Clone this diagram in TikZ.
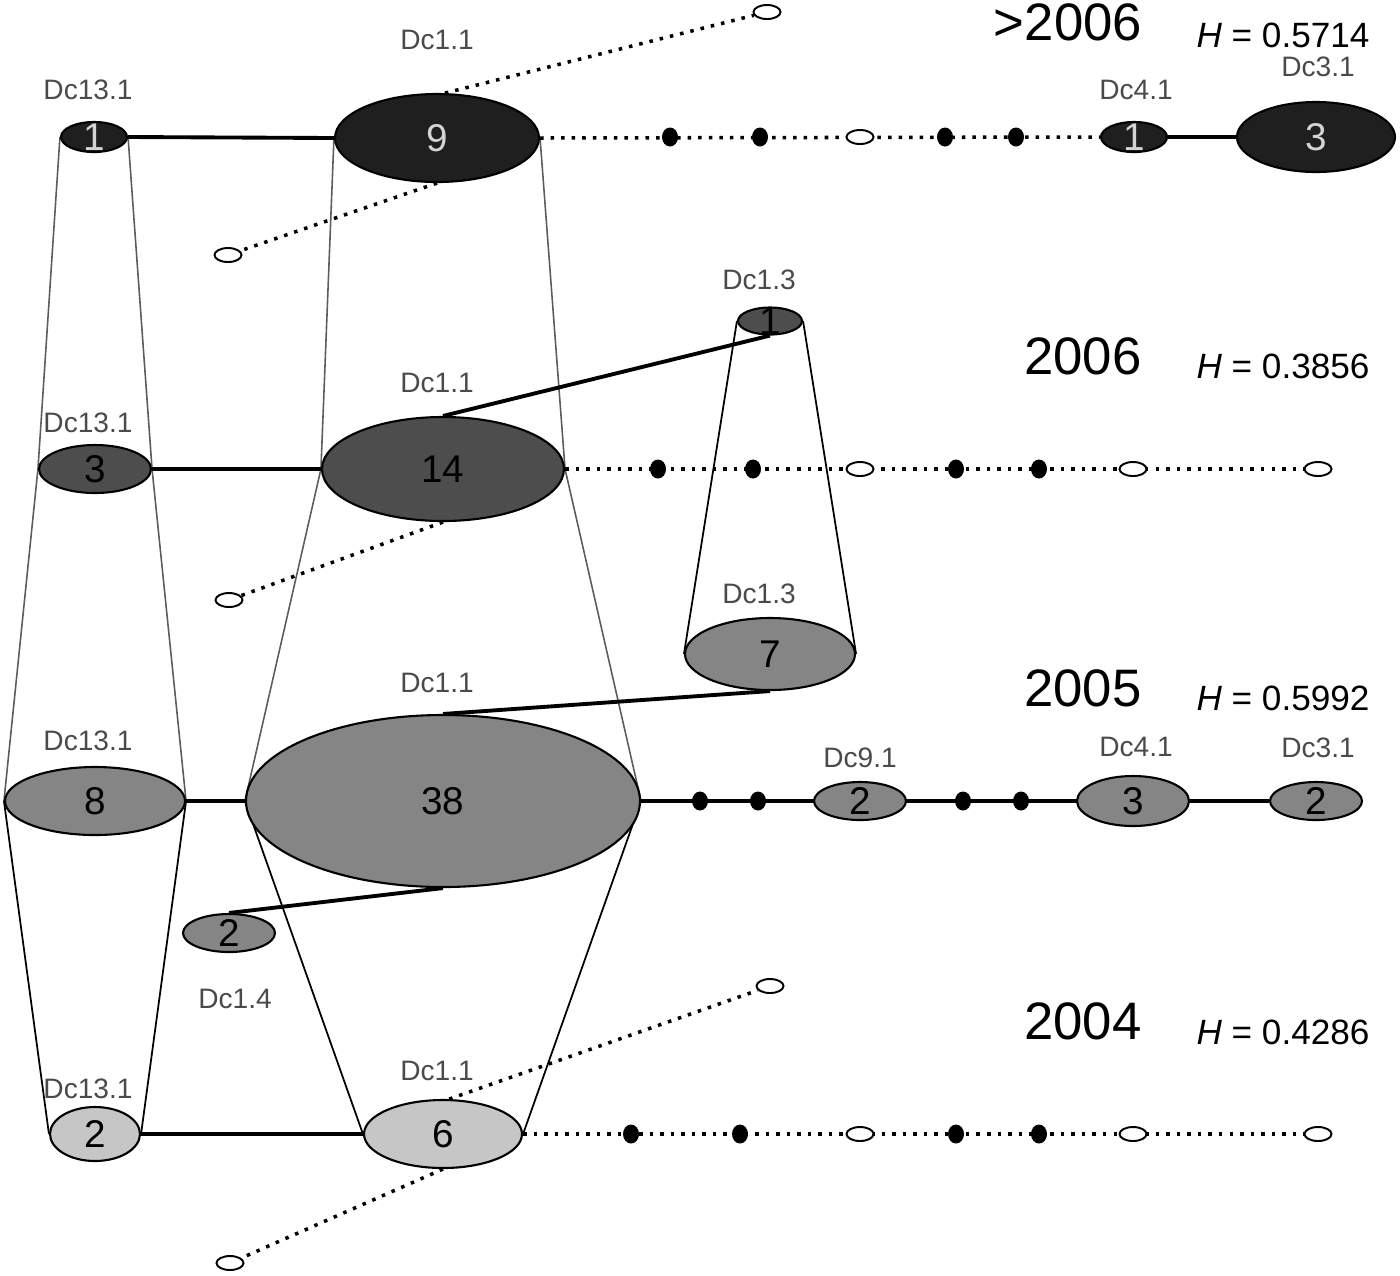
\documentclass[tikz,border=0pt]{standalone}
\usepackage{fontspec}
\setmainfont{Liberation Sans}
\usepackage{xcolor}
\usepackage{tikz}
\usetikzlibrary{shapes.geometric, backgrounds}
\definecolor{hap_dark}{HTML}{1F1F1F}
\definecolor{hap_mid}{HTML}{4D4D4D}
\definecolor{hap_gray}{HTML}{858585}
\definecolor{hap_light}{HTML}{C6C6C6}
\definecolor{hap_label}{HTML}{4A4A4A}
\definecolor{hap_num}{HTML}{D4D4D4}
\definecolor{hap_cone}{HTML}{5C5C5C}

\begin{document}
\begin{tikzpicture}[
            hap/.style 2 args={ellipse, draw, line width=0.6pt, inner sep=0pt,
                        minimum width=#1cm, minimum height=#2cm},
            num/.style={font=\fontsize{11}{13}\selectfont},
            numw/.style={num, text=hap_num},
            tag/.style={font=\fontsize{8}{10}\selectfont, text=hap_label},
            yr/.style={font=\fontsize{15}{18}\selectfont},
            hval/.style={font=\fontsize{10}{12}\selectfont},
            blk/.style={ellipse, fill=black, inner sep=0pt,
                        minimum width=0.16cm, minimum height=0.19cm},
            opn/.style={ellipse, draw, fill=white, line width=0.55pt, inner sep=0pt,
                        minimum width=0.27cm, minimum height=0.14cm},
            link/.style={line width=1.1pt},
            dotln/.style={line width=1pt, dash pattern=on 1pt off 2pt},
            conel/.style={line width=0.45pt, hap_cone},
            coned/.style={line width=0.5pt, black}]
  \useasboundingbox (0,0) rectangle (14,-12.75);

  % >2006
  \node[hap={0.66}{0.30}, fill=hap_dark, label={[numw]center:1}] (a131) at (0.94,-1.37) {};
  \node[hap={2.04}{0.88}, fill=hap_dark, label={[numw]center:9}] (a11) at (4.37,-1.38) {};
  \node[hap={0.66}{0.30}, fill=hap_dark, label={[numw]center:1}] (a41) at (11.34,-1.37) {};
  \node[hap={1.58}{0.70}, fill=hap_dark, label={[numw]center:3}] (a31) at (13.16,-1.37) {};
  \foreach \x [count=\i] in {6.70,7.60,9.45,10.16}
    \node[blk] (ak\i) at (\x,-1.37) {};
  \node[opn] (ao1) at (8.60,-1.37) {};
  \node[opn] (ao2) at (7.67,-0.12) {};
  \node[opn] (ao3) at (2.28,-2.55) {};

  % 2006
  \node[hap={1.12}{0.48}, fill=hap_mid, label={[num]center:3}] (b131) at (0.95,-4.69) {};
  \node[hap={2.42}{1.04}, fill=hap_mid, label={[num]center:14}] (b11) at (4.43,-4.69) {};
  \node[hap={0.64}{0.27}, fill=hap_mid, label={[num]center:1}] (b13) at (7.70,-3.21) {};
  \foreach \x [count=\i] in {6.58,7.53,9.56,10.39}
    \node[blk] (bk\i) at (\x,-4.69) {};
  \foreach \x [count=\i] in {8.60,11.33,13.18}
    \node[opn] (bo\i) at (\x,-4.69) {};
  \node[opn] (bo4) at (2.29,-6.00) {};

  % 2005
  \node[hap={1.70}{0.72}, fill=hap_gray, label={[num]center:7}] (c13) at (7.70,-6.54) {};
  \node[hap={1.80}{0.68}, fill=hap_gray, label={[num]center:8}] (c131) at (0.95,-8.01) {};
  \node[hap={3.94}{1.72}, fill=hap_gray, label={[num]center:38}] (c11) at (4.43,-8.01) {};
  \node[hap={0.92}{0.38}, fill=hap_gray, label={[num]center:2}] (c14) at (2.29,-9.33) {};
  \node[hap={0.92}{0.38}, fill=hap_gray, label={[num]center:2}] (c91) at (8.60,-8.01) {};
  \node[hap={1.12}{0.50}, fill=hap_gray, label={[num]center:3}] (c41) at (11.33,-8.01) {};
  \node[hap={0.92}{0.38}, fill=hap_gray, label={[num]center:2}] (c31) at (13.16,-8.01) {};
  \foreach \x [count=\i] in {7.00,7.58,9.63,10.21}
    \node[blk] (ck\i) at (\x,-8.01) {};

  % 2004
  \node[hap={0.90}{0.54}, fill=hap_light, label={[num]center:2}] (d131) at (0.95,-11.34) {};
  \node[hap={1.58}{0.68}, fill=hap_light, label={[num]center:6}] (d11) at (4.43,-11.34) {};
  \foreach \x [count=\i] in {6.31,7.40,9.56,10.39}
    \node[blk] (dk\i) at (\x,-11.34) {};
  \foreach \x [count=\i] in {8.60,11.33,13.18}
    \node[opn] (do\i) at (\x,-11.34) {};
  \node[opn] (do4) at (7.70,-9.86) {};
  \node[opn] (do5) at (2.30,-12.63) {};

  % labels
  \node[tag] (t1) at (4.37,-0.40) {Dc1.1};
  \node[tag] (t2) at (0.88,-0.90) {Dc13.1};
  \node[tag] (t3) at (11.36,-0.90) {Dc4.1};
  \node[tag] (t4) at (13.18,-0.67) {Dc3.1};
  \node[tag] (t5) at (7.59,-2.80) {Dc1.3};
  \node[tag] (t6) at (4.37,-3.83) {Dc1.1};
  \node[tag] (t7) at (0.88,-4.23) {Dc13.1};
  \node[tag] (t8) at (7.59,-5.94) {Dc1.3};
  \node[tag] (t9) at (4.37,-6.83) {Dc1.1};
  \node[tag] (t10) at (0.88,-7.41) {Dc13.1};
  \node[tag] (t11) at (8.60,-7.58) {Dc9.1};
  \node[tag] (t12) at (11.36,-7.47) {Dc4.1};
  \node[tag] (t13) at (13.18,-7.48) {Dc3.1};
  \node[tag] (t14) at (2.35,-9.99) {Dc1.4};
  \node[tag] (t15) at (0.88,-10.89) {Dc13.1};
  \node[tag] (t16) at (4.37,-10.71) {Dc1.1};

  % years
  \node[yr] (y4) at (10.68,-0.22) {>2006};
  \node[yr] (y3) at (10.83,-3.56) {2006};
  \node[yr] (y2) at (10.83,-6.88) {2005};
  \node[yr] (y1) at (10.83,-10.21) {2004};
  \node[hval] (h4) at (12.83,-0.35) {\textit{H} = 0.5714};
  \node[hval] (h3) at (12.83,-3.66) {\textit{H} = 0.3856};
  \node[hval] (h2) at (12.83,-6.98) {\textit{H} = 0.5992};
  \node[hval] (h1) at (12.83,-10.32) {\textit{H} = 0.4286};

  \begin{scope}[on background layer]
    % cones
    \draw[conel] (a131.west) -- (b131.west) (a131.east) -- (b131.east);
    \draw[conel] (b131.west) -- (c131.west) (b131.east) -- (c131.east);
    \draw[conel] (a11.west) -- (b11.west) (a11.east) -- (b11.east);
    \draw[conel] (b11.west) -- (c11.west) (b11.east) -- (c11.east);
    \draw[coned] (c131.west) -- (d131.west) (c131.east) -- (d131.east);
    \draw[coned] (c11.west) -- (d11.west) (c11.east) -- (d11.east);
    \draw[coned] (b13.west) -- (c13.west) (b13.east) -- (c13.east);
    % dotted chains
    \draw[dotln] (a11.east) -- (a41.west);
    \draw[dotln] (b11.east) -- (bo3.west);
    \draw[dotln] (d11.east) -- (do3.west);
    \draw[dotln] (a11.80) -- (ao2);
    \draw[dotln] (a11.south) -- (ao3);
    \draw[dotln] (b11.south) -- (bo4);
    \draw[dotln] (d11.80) -- (do4);
    \draw[dotln] (d11.south) -- (do5);
    % solid links
    \draw[link] (a131.east) -- (a11.west);
    \draw[link] (a41.east) -- (a31.west);
    \draw[link] (b131.east) -- (b11.west);
    \draw[link] (b11.north) -- (b13.south);
    \draw[link] (c131.east) -- (c11.west);
    \draw[link] (c11.east) -- (c31.west);
    \draw[link] (c11.north) -- (c13.south);
    \draw[link] (c11.south) -- (c14.north);
    \draw[link] (d131.east) -- (d11.west);
  \end{scope}
\end{tikzpicture}
\end{document}
